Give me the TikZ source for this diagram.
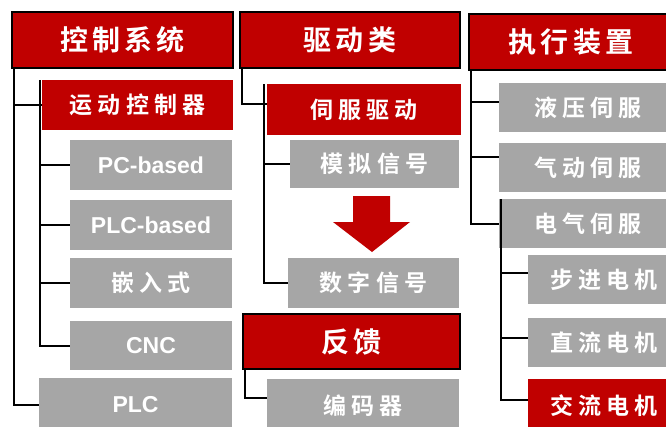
\documentclass[tikz,border=0pt]{standalone}
\usepackage{fontspec}
\setmainfont{Liberation Sans}
\newfontfamily\cjkH{Noto Sans CJK SC Bold}[LetterSpace=15]
\newfontfamily\cjkS{Noto Sans CJK SC Bold}[LetterSpace=22]
\newfontfamily\latB{Liberation Sans Bold}
\newcommand\hfont{\cjkH\fontsize{28}{32}\selectfont}
\newcommand\sfont{\cjkS\fontsize{23}{27}\selectfont}
\newcommand\lfont{\latB\fontsize{23}{27}\selectfont}
\definecolor{cred}{HTML}{C00000}
\definecolor{cgray}{HTML}{A6A6A6}
\tikzset{
  base/.style={inner sep=0pt, outer sep=0pt, text=white, anchor=center},
  head/.style={base, fill=cred, draw=black, line width=2pt, font=\hfont},
  redbox/.style={base, fill=cred, font=\sfont},
  graybox/.style={base, fill=cgray, font=\sfont},
  latbox/.style={base, fill=cgray, font=\lfont},
  conn/.style={line width=2pt, draw=black, line join=miter}
}
\begin{document}
\begin{tikzpicture}[x=1pt, y=-1pt]
\useasboundingbox (0,0) rectangle (666,426);
% column 1
\node[head, minimum width=221pt, minimum height=56pt] (ctrl) at (122.5,40) {控制系统};
\node[redbox, minimum width=191pt, minimum height=50pt] (motion) at (137.5,105) {运动控制器};
\node[latbox, minimum width=162pt, minimum height=50pt] (pcb) at (151,165) {PC-based};
\node[latbox, minimum width=162pt, minimum height=50pt] (plcb) at (151,225) {PLC-based};
\node[graybox, minimum width=162pt, minimum height=50pt] (emb) at (151,283) {嵌入式};
\node[latbox, minimum width=162pt, minimum height=49pt] (cnc) at (151,345.5) {CNC};
\node[latbox, minimum width=193pt, minimum height=54pt] (plc) at (135.5,405) {PLC};
\coordinate (c1) at ([xshift=1.5pt]ctrl.south west);
\coordinate (c2) at ([xshift=-2pt]motion.north west);
\draw[conn] (c1) |- (plc.west);
\draw[conn] (c1 |- motion.west) -- (motion.west);
\draw[conn] (c2) |- (cnc.west);
\draw[conn] (c2 |- pcb.west) -- (pcb.west);
\draw[conn] (c2 |- plcb.west) -- (plcb.west);
\draw[conn] (c2 |- emb.west) -- (emb.west);
% column 2
\node[head, minimum width=220pt, minimum height=56pt] (drive) at (350,40) {驱动类};
\node[redbox, minimum width=194pt, minimum height=51pt] (servo) at (364,109.5) {伺服驱动};
\node[graybox, minimum width=169pt, minimum height=48pt] (analog) at (374.5,164) {模拟信号};
\node[graybox, minimum width=171pt, minimum height=50pt] (digital) at (373.5,283) {数字信号};
\node[head, minimum width=217pt, minimum height=55pt] (fb) at (351.5,341.5) {反馈};
\node[graybox, minimum width=192pt, minimum height=53pt] (enc) at (363,405.5) {编码器};
\fill[cred] (353,196) -- (390,196) -- (390,222) -- (410,222) -- (372,252) -- (333,222) -- (353,222) -- cycle;
\coordinate (d1) at ([xshift=2pt]drive.south west);
\coordinate (d2) at ([xshift=-3pt]servo.north west);
\coordinate (f1) at ([xshift=2pt]fb.south west);
\draw[conn] (d1) |- ([yshift=5.5pt]servo.west);
\draw[conn] (d2) |- (digital.west);
\draw[conn] (d2 |- analog.west) -- (analog.west);
\draw[conn] (f1) |- ([yshift=8pt]enc.west);
% column 3
\node[head, minimum width=204pt, minimum height=56pt] (exec) at (571,42) {执行装置};
\node[graybox, minimum width=178pt, minimum height=49pt] (hyd) at (588,107.5) {液压伺服};
\node[graybox, minimum width=178pt, minimum height=49pt] (pneu) at (588,167.5) {气动伺服};
\node[graybox, minimum width=178pt, minimum height=49pt] (elec) at (588,223.5) {电气伺服};
\node[graybox, minimum width=152pt, minimum height=49pt] (step) at (604,279.5) {步进电机};
\node[graybox, minimum width=152pt, minimum height=49pt] (dc) at (604,342.5) {直流电机};
\node[redbox, minimum width=152pt, minimum height=53pt] (ac) at (604,405.5) {交流电机};
\coordinate (e1) at ([xshift=2pt]exec.south west);
\coordinate (e2) at ([xshift=2pt]elec.north west);
\draw[conn] (e1) |- (elec.west);
\draw[conn] (e1 |- hyd.west) ++(0,-5.5) -- ([yshift=5.5pt]hyd.west);
\draw[conn] (e1 |- pneu.west) ++(0,-10.5) -- ([yshift=10.5pt]pneu.west);
\draw[conn] (e2) |- ([yshift=5.5pt]ac.west);
\draw[conn] (e2 |- step.west) ++(0,-6.5) -- ([yshift=6.5pt]step.west);
\draw[conn] (e2 |- dc.west) ++(0,-4.5) -- ([yshift=4.5pt]dc.west);
\end{tikzpicture}
\end{document}
